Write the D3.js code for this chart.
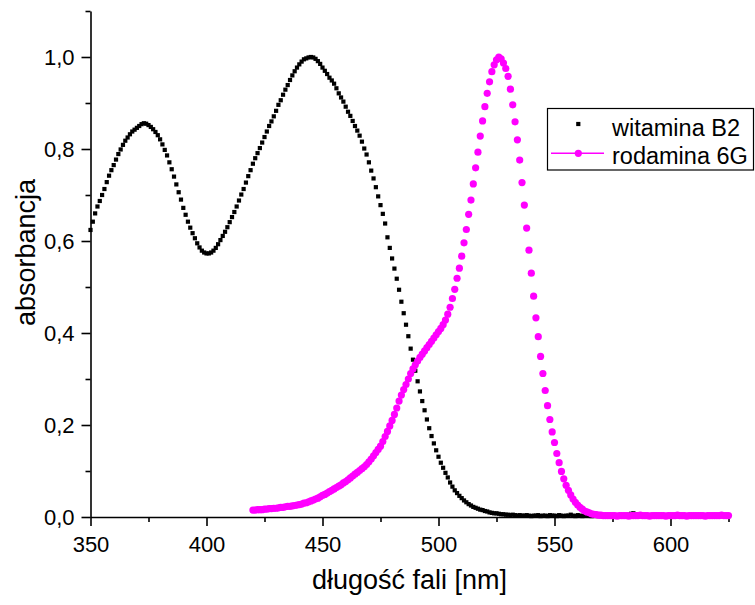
<!DOCTYPE html>
<html>
<head>
<meta charset="utf-8">
<script src="https://cdn.jsdelivr.net/npm/d3@7"></script>
<style>
  html, body { margin: 0; padding: 0; background: #fff; }
  svg { display: block; }
  text { font-family: "Liberation Sans", Arial, sans-serif; fill: #000; }
</style>
</head>
<body>
<svg id="chart" width="755" height="605"></svg>
<script>
// Absorption spectra, sampled every 1 nm
const seriesNames = ["witamina B2", "rodamina 6G"];
const b2StartNm = 350;
const rhodStartNm = 420;
const stepNm = 1;

// witamina B2, 350–585 nm
const b2Values = [
  0.624,0.642,0.660,0.675,0.687,0.700,0.713,0.728,0.742,0.754,
  0.765,0.777,0.789,0.799,0.809,0.818,0.825,0.832,0.838,0.842,
  0.846,0.850,0.854,0.856,0.855,0.852,0.848,0.843,0.837,0.830,
  0.821,0.810,0.798,0.786,0.771,0.756,0.740,0.723,0.706,0.690,
  0.672,0.657,0.642,0.629,0.617,0.606,0.595,0.586,0.579,0.575,
  0.573,0.573,0.575,0.579,0.585,0.593,0.602,0.611,0.620,0.630,
  0.641,0.652,0.663,0.675,0.688,0.701,0.713,0.727,0.741,0.754,
  0.768,0.780,0.791,0.802,0.814,0.826,0.838,0.850,0.860,0.871,
  0.883,0.896,0.906,0.918,0.929,0.939,0.950,0.960,0.969,0.977,
  0.984,0.990,0.995,0.997,0.999,1.000,0.999,0.996,0.991,0.985,
  0.977,0.970,0.963,0.955,0.949,0.942,0.932,0.921,0.912,0.903,
  0.892,0.881,0.872,0.861,0.850,0.840,0.829,0.816,0.801,0.788,
  0.771,0.753,0.736,0.717,0.697,0.678,0.659,0.638,0.608,0.585,
  0.562,0.540,0.518,0.494,0.468,0.443,0.418,0.393,0.366,0.342,
  0.318,0.295,0.273,0.252,0.232,0.212,0.193,0.176,0.160,0.145,
  0.131,0.118,0.107,0.096,0.086,0.075,0.066,0.058,0.052,0.046,
  0.041,0.036,0.032,0.028,0.025,0.022,0.020,0.018,0.016,0.015,
  0.013,0.012,0.010,0.009,0.008,0.008,0.007,0.006,0.006,0.005,
  0.005,0.004,0.005,0.004,0.003,0.004,0.003,0.003,0.004,0.003,
  0.002,0.003,0.003,0.004,0.002,0.003,0.003,0.002,0.004,0.003,
  0.003,0.002,0.004,0.003,0.002,0.003,0.003,0.005,0.003,0.002,
  0.004,0.003,0.002,0.003,0.003,0.004,0.002,0.003,0.003,0.004,
  0.003,0.002,0.003,0.003,0.004,0.003,0.002,0.003,0.004,0.003,
  0.003,0.004,0.005,0.007,0.008,0.006
];

// rodamina 6G, 420–625 nm
const rhodValues = [
  0.015,0.015,0.016,0.016,0.016,0.017,0.017,0.018,0.018,0.019,
  0.019,0.020,0.021,0.021,0.022,0.023,0.023,0.024,0.025,0.026,
  0.027,0.028,0.030,0.031,0.033,0.035,0.037,0.039,0.041,0.044,
  0.047,0.049,0.052,0.055,0.058,0.061,0.064,0.067,0.070,0.074,
  0.077,0.081,0.085,0.089,0.093,0.097,0.101,0.105,0.109,0.114,
  0.120,0.126,0.133,0.140,0.147,0.154,0.164,0.175,0.186,0.198,
  0.210,0.223,0.237,0.252,0.265,0.277,0.288,0.300,0.312,0.322,
  0.331,0.339,0.347,0.354,0.361,0.368,0.375,0.382,0.389,0.396,
  0.403,0.410,0.418,0.428,0.441,0.456,0.475,0.495,0.519,0.541,
  0.567,0.596,0.625,0.658,0.689,0.724,0.759,0.793,0.828,0.861,
  0.892,0.921,0.946,0.968,0.983,0.994,1.000,0.996,0.987,0.975,
  0.958,0.930,0.896,0.859,0.820,0.776,0.727,0.678,0.628,0.580,
  0.530,0.480,0.433,0.392,0.349,0.312,0.275,0.242,0.212,0.185,
  0.162,0.138,0.118,0.099,0.083,0.069,0.058,0.048,0.039,0.032,
  0.026,0.021,0.017,0.013,0.011,0.009,0.007,0.006,0.005,0.004,
  0.004,0.003,0.003,0.003,0.003,0.003,0.003,0.002,0.003,0.003,
  0.003,0.003,0.002,0.003,0.003,0.003,0.003,0.004,0.003,0.003,
  0.003,0.002,0.003,0.003,0.003,0.003,0.003,0.003,0.002,0.003,
  0.003,0.003,0.003,0.004,0.003,0.003,0.003,0.002,0.003,0.003,
  0.003,0.003,0.003,0.003,0.003,0.002,0.003,0.003,0.003,0.003,
  0.003,0.003,0.004,0.003,0.003,0.003
];

// Axis ticks
const xMajorTicks = [350, 400, 450, 500, 550, 600];
const xMinorTicks = [375, 425, 475, 525, 575, 625];
const yMajorTicks = [0, 0.2, 0.4, 0.6, 0.8, 1.0];
const yMinorTicks = [0.1, 0.3, 0.5, 0.7, 0.9, 1.1];
const xTitle = "długość fali [nm]";
const yTitle = "absorbancja";

const b2Points = b2Values.map((v, i) => ({ nm: b2StartNm + i * stepNm, a: v }));
const rhodPoints = rhodValues.map((v, i) => ({ nm: rhodStartNm + i * stepNm, a: v }));

const svg = d3.select("#chart");
const x = d3.scaleLinear().domain([350, 625]).range([90.5, 728.5]);
const y = d3.scaleLinear().domain([0, 1.1]).range([517, 11]);
const comma = v => d3.format(".1f")(v).replace(".", ",");

// bottom axis: major ticks with labels, minor ticks without
const gx = svg.append("g").attr("transform", `translate(0,${y(0)})`);
gx.call(d3.axisBottom(x).tickValues(xMajorTicks).tickSize(9).tickSizeOuter(0)
  .tickPadding(10).tickFormat(d3.format("d")));
gx.append("g").call(d3.axisBottom(x).tickValues(xMinorTicks).tickSize(5)
  .tickSizeOuter(0).tickFormat(""))
  .select(".domain").remove();

const gy = svg.append("g").attr("transform", `translate(${x(350)},0)`);
gy.call(d3.axisLeft(y).tickValues(yMajorTicks).tickSize(9).tickSizeOuter(0)
  .tickPadding(7).tickFormat(comma));
gy.append("g").call(d3.axisLeft(y).tickValues(yMinorTicks).tickSize(5)
  .tickSizeOuter(0).tickFormat(""))
  .select(".domain").remove();

svg.selectAll(".domain").attr("stroke", "#000").attr("stroke-width", 1.6);
svg.selectAll(".tick line").attr("stroke", "#000").attr("stroke-width", 1.6);
svg.selectAll(".tick text").attr("font-size", 22)
  .attr("font-family", '"Liberation Sans", Arial, sans-serif').attr("fill", "#000");

// axis titles
svg.append("text").attr("x", x(487.5)).attr("y", 589)
  .attr("text-anchor", "middle").attr("font-size", 27).text(xTitle);
svg.append("text")
  .attr("transform", `translate(35,${y(0.575)}) rotate(-90)`)
  .attr("text-anchor", "middle").attr("font-size", 27).text(yTitle);

// witamina B2: small black squares
const sq = 4.2;
svg.append("g").selectAll("rect").data(b2Points).join("rect")
  .attr("x", d => x(d.nm) - sq / 2).attr("y", d => y(d.a) - sq / 2)
  .attr("width", sq).attr("height", sq).attr("fill", "#000");

// rodamina 6G: magenta dots
svg.append("g").selectAll("circle").data(rhodPoints).join("circle")
  .attr("cx", d => x(d.nm)).attr("cy", d => y(d.a))
  .attr("r", 3.6).attr("fill", "#ff00ff");

// legend
const lg = svg.append("g");
lg.append("rect").attr("x", 547.5).attr("y", 108.5).attr("width", 206).attr("height", 61.5)
  .attr("fill", "#fff").attr("stroke", "#000").attr("stroke-width", 1.2);
lg.append("rect").attr("x", 578.3 - 2.1).attr("y", 124 - 2.1)
  .attr("width", sq).attr("height", sq).attr("fill", "#000");
lg.append("line").attr("x1", 551).attr("x2", 604).attr("y1", 153.3).attr("y2", 153.3)
  .attr("stroke", "#ff00ff").attr("stroke-width", 1.5);
lg.append("circle").attr("cx", 578.3).attr("cy", 153.3).attr("r", 3.6).attr("fill", "#ff00ff");
lg.append("text").attr("x", 612).attr("y", 135.5).attr("font-size", 23.5).text(seriesNames[0]);
lg.append("text").attr("x", 612).attr("y", 163.5).attr("font-size", 23.5).text(seriesNames[1]);
</script>
</body>
</html>
